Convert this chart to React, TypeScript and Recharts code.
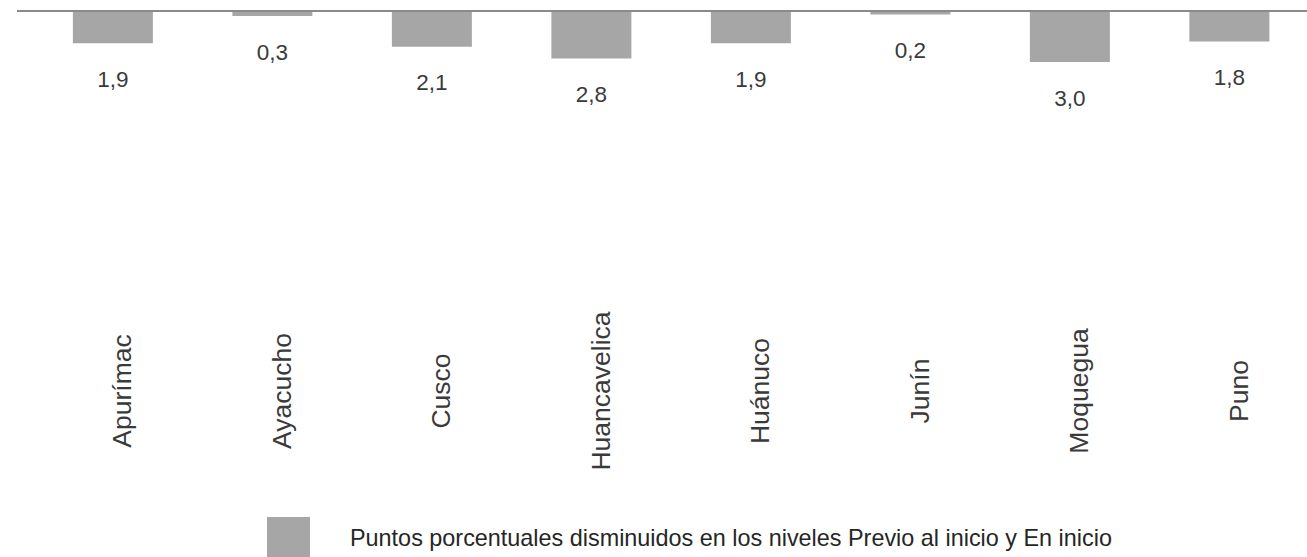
import React from 'react';
import { BarChart, Bar, XAxis, YAxis, LabelList, Legend } from 'recharts';

const regions = ['Apurímac', 'Ayacucho', 'Cusco', 'Huancavelica', 'Huánuco', 'Junín', 'Moquegua', 'Puno'];
const decreasePoints = [1.9, 0.3, 2.1, 2.8, 1.9, 0.2, 3.0, 1.8];
const seriesName = 'Puntos porcentuales disminuidos en los niveles Previo al inicio y En inicio';

const data = regions.map((name, i) => ({ name, value: decreasePoints[i] }));

const FONT = '"Liberation Sans", Arial, sans-serif';
const TEXT = '#3a3a3a';
const BAR = '#a6a6a6';

const CategoryTick = (props: any) => {
  const { x, y, payload } = props;
  const cy = y + 40;
  return (
    <text
      x={x}
      y={cy}
      transform={`rotate(-90, ${x}, ${cy})`}
      textAnchor="middle"
      dy={18.5}
      fill={TEXT}
      fontSize={26.5}
      fontFamily={FONT}
    >
      {payload.value}
    </text>
  );
};

const ValueLabel = (props: any) => {
  const { x, y, width, height, value } = props;
  const bottom = Math.max(y, y + height);
  return (
    <text
      x={x + width / 2}
      y={bottom + 36}
      textAnchor="middle"
      dominantBaseline="central"
      fill={TEXT}
      fontSize={22.5}
      fontFamily={FONT}
    >
      {Number(value).toFixed(1).replace('.', ',')}
    </text>
  );
};

const LegendContent = (props: any) => {
  const { payload } = props;
  return (
    <div style={{ display: 'flex', alignItems: 'center' }}>
      {(payload || []).map((entry: any, i: number) => (
        <div key={i} style={{ display: 'flex', alignItems: 'center' }}>
          <div style={{ width: 43, height: 43, background: entry.color, marginRight: 40 }} />
          <span style={{ fontFamily: FONT, fontSize: 23.4, color: '#262626', whiteSpace: 'nowrap' }}>{entry.value}</span>
        </div>
      ))}
    </div>
  );
};

export default function App() {
  return (
    <div style={{ position: 'absolute', left: 0, top: 0, width: 1307, height: 557, overflow: 'hidden', background: '#fff' }}>
      <BarChart
        width={1310}
        height={557}
        data={data}
        margin={{ top: 9, right: 1, left: 17, bottom: 146 }}
        barCategoryGap="25%"
      >
        <XAxis
          xAxisId="top"
          orientation="top"
          dataKey="name"
          height={2}
          tick={false}
          tickLine={false}
          axisLine={{ stroke: '#8a8a8a', strokeWidth: 2 }}
        />
        <XAxis
          dataKey="name"
          height={60}
          padding={{ left: 16, right: 0 }}
          axisLine={false}
          tickLine={false}
          tickSize={0}
          tickMargin={0}
          interval={0}
          tick={<CategoryTick />}
        />
        <YAxis hide reversed domain={[0, 20]} />
        <Legend
          layout="horizontal"
          verticalAlign="middle"
          align="center"
          content={<LegendContent />}
          wrapperStyle={{ position: 'absolute', left: 267, top: 517, width: 1000, height: 43 }}
        />
        <Bar dataKey="value" name={seriesName} fill={BAR} isAnimationActive={false}>
          <LabelList dataKey="value" content={<ValueLabel />} />
        </Bar>
      </BarChart>
    </div>
  );
}
